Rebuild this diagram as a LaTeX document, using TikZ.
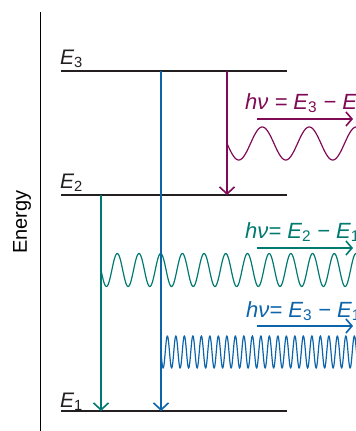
\documentclass[tikz,border=0pt]{standalone}
\usepackage{fontspec}
\setmainfont{Liberation Sans}
\usetikzlibrary{arrows.meta}
\definecolor{levelgray}{RGB}{35,31,32}
\definecolor{emitpurple}{RGB}{128,10,85}
\definecolor{emitteal}{RGB}{0,122,112}
\definecolor{emitblue}{RGB}{12,100,170}
\tikzset{
  level/.style={line width=2.4pt,draw=levelgray},
  decay/.style={-{Straight Barb[length=7pt,width=15pt,line width=1.6pt]},line width=1.3pt},
  wave/.style={line width=1.2pt},
  photon/.style={-{Straight Barb[length=6pt,width=14pt,line width=1.6pt]},line width=1.5pt},
  lvllab/.style={font=\fontsize{21}{24}\selectfont\itshape,inner sep=0pt,anchor=base west,text=levelgray},
  hvlab/.style={font=\fontsize{22}{24}\selectfont\itshape,inner sep=0pt,anchor=base west}
}
\newcommand{\En}[1]{E\textsubscript{\upshape #1}}

\begin{document}
\begin{tikzpicture}[x=1pt,y=-1pt]
\useasboundingbox (0,0) rectangle (356,431);
\clip (0,0) rectangle (356,431);

\coordinate (axt) at (40,12);
\coordinate (axb) at (40,431);
\draw[line width=0.9pt] (axt)--(axb);
\node[rotate=90,font=\fontsize{20}{22}\selectfont,inner sep=0pt] (energy) at (22,222) {Energy};

\coordinate (E3l) at (61,71);  \coordinate (E3r) at (287,71);
\coordinate (E2l) at (61,195); \coordinate (E2r) at (287,195);
\coordinate (E1l) at (61,411); \coordinate (E1r) at (287,411);
\draw[level] (E3l)--(E3r);
\draw[level] (E2l)--(E2r);
\draw[level] (E1l)--(E1r);

\node[lvllab] (lab3) at (60,64) {\En{3}};
\node[lvllab] (lab2) at (60,188) {\En{2}};
\node[lvllab] (lab1) at (60,407) {\En{1}};

\draw[wave,emitpurple] plot[domain=227:360,samples=200] (\x,{143.5+16.5*sin(360/47*(\x-227))});
\draw[wave,emitteal] plot[domain=101:360,samples=400] (\x,{270+16.5*sin(360/21.7*(\x-101))});
\draw[wave,emitblue] plot[domain=161:360,samples=700] (\x,{352+16*sin(360/8.5*(\x-161))});

\coordinate (p3) at (227,71);  \coordinate (p2) at (227,195);
\coordinate (b3) at (161,71);  \coordinate (b1) at (161,411);
\coordinate (t2) at (101,195); \coordinate (t1) at (101,411);
\draw[decay,emitpurple] (p3)--(p2);
\draw[decay,emitblue] (b3)--(b1);
\draw[decay,emitteal] (t2)--(t1);

\node[hvlab,text=emitpurple] (hv32) at (245,109) {hν = \En{3} − \En{2}};
\node[hvlab,text=emitteal] (hv21) at (245,238) {hν= \En{2} − \En{1}};
\node[hvlab,text=emitblue] (hv31) at (246,317) {hν= \En{3} − \En{1}};

\coordinate (a32l) at (257,119); \coordinate (a32r) at (353,119);
\coordinate (a21l) at (257,248); \coordinate (a21r) at (353,248);
\coordinate (a31l) at (257,326); \coordinate (a31r) at (353,326);
\draw[photon,emitpurple] (a32l)--(a32r);
\draw[photon,emitteal] (a21l)--(a21r);
\draw[photon,emitblue] (a31l)--(a31r);
\end{tikzpicture}
\end{document}
